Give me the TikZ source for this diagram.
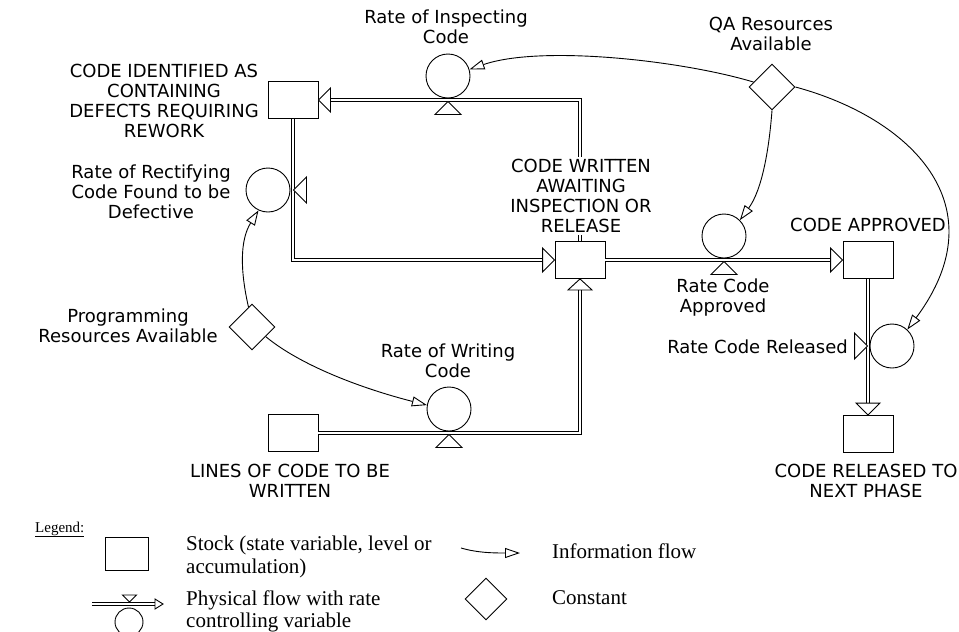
\documentclass[tikz,border=0pt]{standalone}
\usepackage{fontspec}
\setmainfont{Liberation Serif}
\newfontfamily\lblfont{DejaVu Sans}
\usetikzlibrary{shapes.geometric,arrows.meta,calc}
\begin{document}
\begin{tikzpicture}[x=1pt,y=-1pt,
  every node/.style={inner sep=0pt},
  stock/.style={draw, line width=0.9pt, minimum width=50pt, minimum height=37pt, fill=white},
  rate/.style={draw, circle, line width=0.9pt, minimum size=44pt, fill=white},
  const/.style={draw, diamond, aspect=1, line width=0.9pt, minimum size=46pt, fill=white},
  lbl/.style={font=\lblfont\fontsize{18}{20}\selectfont, align=center},
  pipe/.style={double distance=2.4pt, line width=0.9pt},
  info/.style={line width=0.9pt, -{Triangle[open, length=15pt, width=10pt, fill=white]}},
  tri/.style={draw, line width=0.9pt, fill=white, line join=miter},
  leg/.style={font=\fontsize{21}{23}\selectfont, align=left, anchor=north west},
]
\useasboundingbox (0,0) rectangle (959,632);

% stocks
\node[stock] (CI) at (293,100) {};
\node[stock] (CW) at (580,260) {};
\node[stock] (CA) at (868,260) {};
\node[stock] (CR) at (868,434) {};
\node[stock] (LC) at (293,433) {};
% rates
\node[rate] (RI) at (448,76) {};
\node[rate] (RR) at (268,190) {};
\node[rate] (RA) at (724,236) {};
\node[rate] (RL) at (892,346) {};
\node[rate] (RW) at (449,409) {};
% constants
\node[const] (QA) at (772,87) {};
\node[const] (PR) at (252,327) {};

% pipes
\draw[pipe] (LC.east) -- (CW.south |- LC.east) -- ($(CW.south)+(0,11)$);
\draw[tri] (CW.south) -- ++(-12,11) -- ++(24,0) -- cycle;
\draw[pipe] (CW.north) -- (CW.north |- CI.east) -- ($(CI.east)+(12,0)$);
\draw[tri] (CI.east) -- ++(12,-12) -- ++(0,24) -- cycle;
\draw[pipe] (CI.south) -- (CI.south |- CW.west) -- ($(CW.west)+(-12,0)$);
\draw[tri] (CW.west) -- ++(-12,-12) -- ++(0,24) -- cycle;
\draw[pipe] (CW.east) -- ($(CA.west)+(-12,0)$);
\draw[tri] (CA.west) -- ++(-12,-12) -- ++(0,24) -- cycle;
\draw[pipe] (CA.south) -- ($(CR.north)+(0,-12)$);
\draw[tri] (CR.north) -- ++(-12,-12) -- ++(24,0) -- cycle;

% valves
\draw[tri] ($(RI.south)+(0,3)$) -- ++(-13,13) -- ++(26,0) -- cycle;
\draw[tri] ($(RA.south)+(0,3)$) -- ++(-13,13) -- ++(26,0) -- cycle;
\draw[tri] ($(RW.south)+(0,3)$) -- ++(-13,13) -- ++(26,0) -- cycle;
\draw[tri] ($(RR.east)+(3,0)$) -- ++(13,-13) -- ++(0,26) -- cycle;
\draw[tri] ($(RL.west)+(-2,0)$) -- ++(-13,-13) -- ++(0,26) -- cycle;

% information flows
\draw[info] (QA.165) .. controls (680,60) and (540,45) .. (RI.17);
\draw[info] (QA.south) .. controls (769,150) and (762,190) .. (RA.45);
\draw[info] (QA.east) .. controls (910,118) and (1000,205) .. (RL.47);
\draw[info] (PR.100) .. controls (240,270) and (240,240) .. (RR.245);
\draw[info] (PR.-35) .. controls (300,365) and (360,388) .. (RW.170);

% labels
\node[lbl] (tCI) at (164,101) {CODE IDENTIFIED AS\\CONTAINING\\DEFECTS REQUIRING\\REWORK};
\node[lbl] (tRI) at (446,27) {Rate of Inspecting\\Code};
\node[lbl] (tQA) at (771,34) {QA Resources\\Available};
\node[lbl] (tRR) at (151,192) {Rate of Rectifying\\Code Found to be\\Defective};
\node[lbl, fill=white, inner sep=2pt] (tCW) at (581,196) {CODE WRITTEN\\AWAITING\\INSPECTION OR\\RELEASE};
\node[lbl] (tCA) at (868,225) {CODE APPROVED};
\node[lbl] (tRA) at (723,298) {Rate Code\\Approved};
\node[lbl, anchor=east] (tRL) at (848,347) {Rate Code Released};
\node[lbl] (tPR) at (128,326) {Programming\\Resources Available};
\node[lbl] (tRW) at (448,361) {Rate of Writing\\Code};
\node[lbl] (tLC) at (290,481) {LINES OF CODE TO BE\\WRITTEN};
\node[lbl] (tCR) at (866,481) {CODE RELEASED TO\\NEXT PHASE};

% legend
\node[font=\fontsize{15}{17}\selectfont, anchor=base west] (tLeg) at (35,532) {\underline{Legend:}};
\node[draw, line width=0.9pt, minimum width=43pt, minimum height=33pt] (lS) at (126.5,553.5) {};
\node[leg] (tLS) at (186,536) {Stock (state variable, level or\\accumulation)};
\coordinate (lf1) at (92,604);
\coordinate (lf2) at (155,604);
\draw[pipe] (lf1) -- (lf2);
\draw[tri] ($(lf2)+(8,0)$) -- ++(-8,-5) -- ++(0,10) -- cycle;
\draw[tri] (129.5,602) -- ++(-7,-7) -- ++(14,0) -- cycle;
\node[draw, circle, line width=0.9pt, minimum size=28pt] (lc) at (129,622) {};
\node[leg, font=\fontsize{21}{22}\selectfont] (tLP) at (186,591) {Physical flow with rate\\controlling variable};
\coordinate (li1) at (461,548);
\coordinate (li2) at (520,553);
\draw[info] (li1) .. controls (478,553) and (495,553) .. (li2);
\node[leg, anchor=west] (tLI) at (552,551) {Information flow};
\node[const, minimum size=42pt] (lD) at (486,599) {};
\node[leg, anchor=west] (tLK) at (552,598) {Constant};
\end{tikzpicture}
\end{document}
